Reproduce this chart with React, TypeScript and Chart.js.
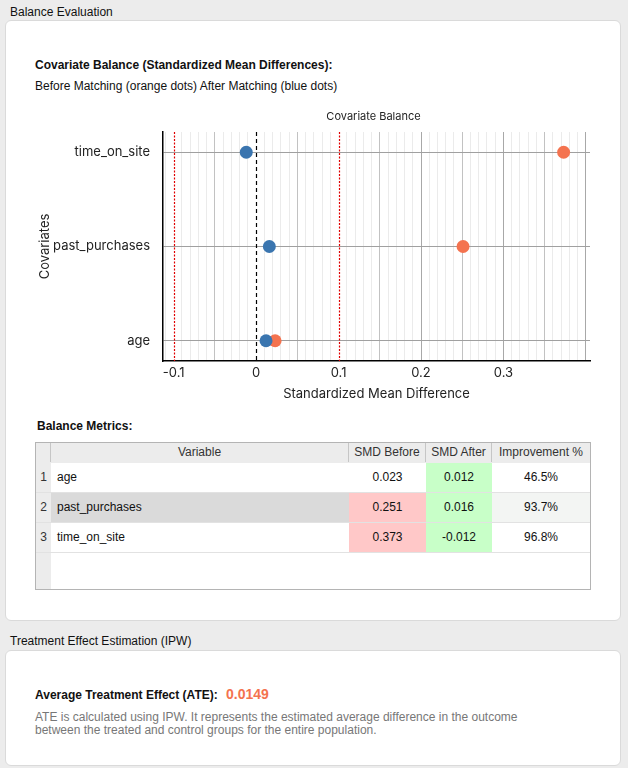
import React, { useEffect, useRef } from "react";
import { Chart, registerables } from "chart.js";

Chart.register(...registerables);

const categories = ["age", "past_purchases", "time_on_site"];
const smdBefore = [0.023, 0.251, 0.373];
const smdAfter = [0.012, 0.016, -0.012];
const improvement = ["46.5%", "93.7%", "96.8%"];
const thresholds = [-0.1, 0.1];
const zeroLine = [0];
const xTickLabels = [-0.1, 0, 0.1, 0.2, 0.3];
const ateValue = "0.0149";

const ORANGE = "#F4734F";
const BLUE = "#3A75AF";
const UI_FONT = "'Liberation Sans', Arial, Helvetica, sans-serif";
const CHART_FONT = "Inter, 'Liberation Sans', Arial, sans-serif";

const isMultiple = (v: number, step: number) => {
  const r = v / step;
  return Math.abs(r - Math.round(r)) < 1e-6;
};
const isRefValue = (v: number) =>
  [...thresholds, ...zeroLine].some((t) => Math.abs(t - v) < 1e-6);

const refLinesPlugin = {
  id: "refLines",
  beforeDatasetsDraw(chart: any) {
    const { ctx, chartArea, scales } = chart;
    ctx.save();
    thresholds.forEach((t) => {
      const x = Math.round(scales.x.getPixelForValue(t)) + 0.5;
      ctx.lineWidth = 1.2;
      ctx.strokeStyle = "#e00000";
      ctx.setLineDash([2, 1.5]);
      ctx.beginPath();
      ctx.moveTo(x, chartArea.top);
      ctx.lineTo(x, chartArea.bottom);
      ctx.stroke();
    });
    zeroLine.forEach((t) => {
      const x = Math.round(scales.x.getPixelForValue(t)) + 0.5;
      ctx.lineWidth = 1.2;
      ctx.strokeStyle = "#000";
      ctx.setLineDash([4, 3]);
      ctx.beginPath();
      ctx.moveTo(x, chartArea.top);
      ctx.lineTo(x, chartArea.bottom);
      ctx.stroke();
    });
    ctx.restore();
  },
  afterDraw(chart: any) {
    const { ctx, chartArea } = chart;
    ctx.save();
    ctx.font = `11px ${CHART_FONT}`;
    ctx.fillStyle = "#222";
    ctx.textAlign = "center";
    ctx.textBaseline = "middle";
    ctx.fillText("Covariate Balance", (chartArea.left + chartArea.right) / 2 - 3, 17);
    ctx.restore();
  },
};

function BalanceChart() {
  const ref = useRef<HTMLCanvasElement | null>(null);
  useEffect(() => {
    if (!ref.current) return;
    const chart = new Chart(ref.current, {
      type: "scatter",
      data: {
        datasets: [
          {
            label: "After Matching",
            data: categories.map((_, i) => ({ x: smdAfter[i], y: i })),
            backgroundColor: BLUE,
            borderWidth: 0,
            pointRadius: 6.5,
          },
          {
            label: "Before Matching",
            data: categories.map((_, i) => ({ x: smdBefore[i], y: i })),
            backgroundColor: ORANGE,
            borderWidth: 0,
            pointRadius: 6.5,
          },
        ],
      },
      options: {
        animation: false,
        responsive: true,
        maintainAspectRatio: false,
        layout: { padding: { top: 32, right: 10, left: 0, bottom: 0 } },
        plugins: {
          legend: { display: false },
          tooltip: { enabled: false },
          title: { display: false },
        },
        scales: {
          x: {
            type: "linear",
            min: -0.113,
            max: 0.405,
            afterBuildTicks(axis: any) {
              const t: any[] = [];
              for (let k = -11; k <= 40; k++) t.push({ value: k / 100 });
              axis.ticks = t;
            },
            afterFit(axis: any) {
              axis.height = 49;
            },
            ticks: {
              autoSkip: false,
              maxRotation: 0,
              padding: 4,
              color: "#222",
              font: { family: CHART_FONT, size: 13 },
              callback(v: any) {
                const val = Number(v);
                const hit = xTickLabels.find((l) => Math.abs(l - val) < 1e-6);
                if (hit === undefined) return "";
                return hit === 0 ? "0" : String(hit);
              },
            },
            grid: {
              drawTicks: false,
              lineWidth: 1,
              color(ctx: any) {
                const v = ctx.tick ? ctx.tick.value : 0;
                if (isRefValue(v)) return "rgba(0,0,0,0)";
                if (isMultiple(v, 0.1)) return "#a8a8a8";
                if (isMultiple(v, 0.05)) return "#c2c2c2";
                return "#ebebeb";
              },
            },
            border: { display: true, color: "#000", width: 1.5 },
            title: {
              display: true,
              text: "Standardized Mean Difference",
              color: "#222",
              font: { family: CHART_FONT, size: 13 },
              padding: { top: 4, bottom: 8 },
            },
          },
          y: {
            type: "linear",
            min: -0.215,
            max: 2.215,
            afterBuildTicks(axis: any) {
              axis.ticks = categories.map((_, i) => ({ value: i }));
            },
            afterFit(axis: any) {
              axis.width = 133;
            },
            ticks: {
              padding: 13,
              color: "#222",
              font: { family: CHART_FONT, size: 13 },
              callback(v: any) {
                return categories[Number(v)] ?? "";
              },
            },
            grid: { drawTicks: false, color: "#a0a0a0", lineWidth: 1 },
            border: { display: true, color: "#000", width: 1.5 },
            title: {
              display: true,
              text: "Covariates",
              color: "#222",
              font: { family: CHART_FONT, size: 13 },
              padding: { top: 7, bottom: 0 },
            },
          },
        },
      },
      plugins: [refLinesPlugin],
    } as any);
    return () => chart.destroy();
  }, []);
  return (
    <div style={{ position: "absolute", left: 30, top: 100, width: 570, height: 310 }}>
      <canvas ref={ref} />
    </div>
  );
}

const colW = [15, 298, 77, 66, 98];
const headers = ["", "Variable", "SMD Before", "SMD After", "Improvement %"];

function MetricsTable() {
  const rowH = 30;
  const headH = 19;
  const beforeBg = (v: number) => (v > 0.1 ? "#FFC8C8" : "#FFFFFF");
  return (
    <div
      style={{
        position: "absolute",
        left: 35,
        top: 442,
        width: 554,
        height: 146,
        border: "1px solid #b4b4b4",
        background: "#fff",
        overflow: "hidden",
        fontFamily: UI_FONT,
        fontSize: 12,
        color: "#111",
      }}
    >
      <div style={{ position: "absolute", left: 0, top: 0, width: colW[0], height: 146, background: "#ececec", zIndex: 0 }} />
      <div style={{ position: "relative", zIndex: 1 }}>
        <div style={{ display: "flex", height: headH, background: "#ececec", borderBottom: "1px solid #ececec" }}>
          {headers.map((h, i) => (
            <div
              key={i}
              style={{
                width: colW[i],
                height: headH,
                lineHeight: headH + "px",
                textAlign: "center",
                color: "#333",
                borderRight: i < headers.length - 1 ? "1px solid #c6c6c6" : "none",
                boxSizing: "border-box",
              }}
            >
              {h}
            </div>
          ))}
        </div>
        {categories.map((c, r) => {
          const cells = [
            { t: String(r + 1), bg: "#ececec", align: "center" as const },
            { t: c, bg: r === 1 ? "#DADADA" : "#fff", align: "left" as const },
            { t: smdBefore[r].toFixed(3), bg: beforeBg(smdBefore[r]), align: "center" as const },
            { t: smdAfter[r].toFixed(3), bg: "#C8FFC8", align: "center" as const },
            { t: improvement[r], bg: r === 1 ? "#F3F5F3" : "#fff", align: "center" as const },
          ];
          return (
            <div key={c} style={{ display: "flex", height: rowH, borderBottom: "1px solid #e2e2e2", boxSizing: "border-box" }}>
              {cells.map((cell, i) => (
                <div
                  key={i}
                  style={{
                    width: colW[i],
                    height: rowH - 1,
                    lineHeight: rowH - 1 + "px",
                    background: cell.bg,
                    textAlign: cell.align,
                    paddingLeft: cell.align === "left" ? 6 : 0,
                    boxSizing: "border-box",
                    color: i === 0 ? "#333" : "#111",
                  }}
                >
                  {cell.t}
                </div>
              ))}
            </div>
          );
        })}
      </div>
    </div>
  );
}

const textStyle = (left: number, centerY: number, extra: any = {}) => ({
  position: "absolute" as const,
  left,
  top: centerY - 7,
  height: 14,
  lineHeight: "14px",
  fontFamily: UI_FONT,
  fontSize: 12,
  color: "#111",
  whiteSpace: "nowrap" as const,
  ...extra,
});

export default function App() {
  useEffect(() => {
    document.body.style.margin = "0";
    document.body.style.background = "#ececec";
  }, []);
  return (
    <div
      style={{
        position: "absolute",
        left: 0,
        top: 0,
        width: 628,
        height: 768,
        background: "#ececec",
        overflow: "hidden",
      }}
    >
      <div style={textStyle(10, 12)}>Balance Evaluation</div>
      <div
        style={{
          position: "absolute",
          left: 5,
          top: 20,
          width: 614,
          height: 599,
          background: "#fff",
          border: "1px solid #dadada",
          borderRadius: 6,
        }}
      />
      <div style={textStyle(35, 65, { fontWeight: "bold" })}>
        Covariate Balance (Standardized Mean Differences):
      </div>
      <div style={textStyle(35, 86)}>Before Matching (orange dots) After Matching (blue dots)</div>
      <BalanceChart />
      <div style={textStyle(37, 426, { fontWeight: "bold" })}>Balance Metrics:</div>
      <MetricsTable />

      <div style={textStyle(10, 641)}>Treatment Effect Estimation (IPW)</div>
      <div
        style={{
          position: "absolute",
          left: 5,
          top: 650,
          width: 614,
          height: 114,
          background: "#fff",
          border: "1px solid #dadada",
          borderRadius: 6,
        }}
      />
      <div style={textStyle(35, 695, { fontWeight: "bold" })}>Average Treatment Effect (ATE):</div>
      <div style={textStyle(226, 694, { fontWeight: "bold", fontSize: 14, color: ORANGE })}>{ateValue}</div>
      <div
        style={{
          position: "absolute",
          left: 35,
          top: 711,
          width: 560,
          fontFamily: UI_FONT,
          fontSize: 12,
          lineHeight: "13px",
          color: "#777",
        }}
      >
        ATE is calculated using IPW. It represents the estimated average difference in the outcome
        <br />
        between the treated and control groups for the entire population.
      </div>
    </div>
  );
}
